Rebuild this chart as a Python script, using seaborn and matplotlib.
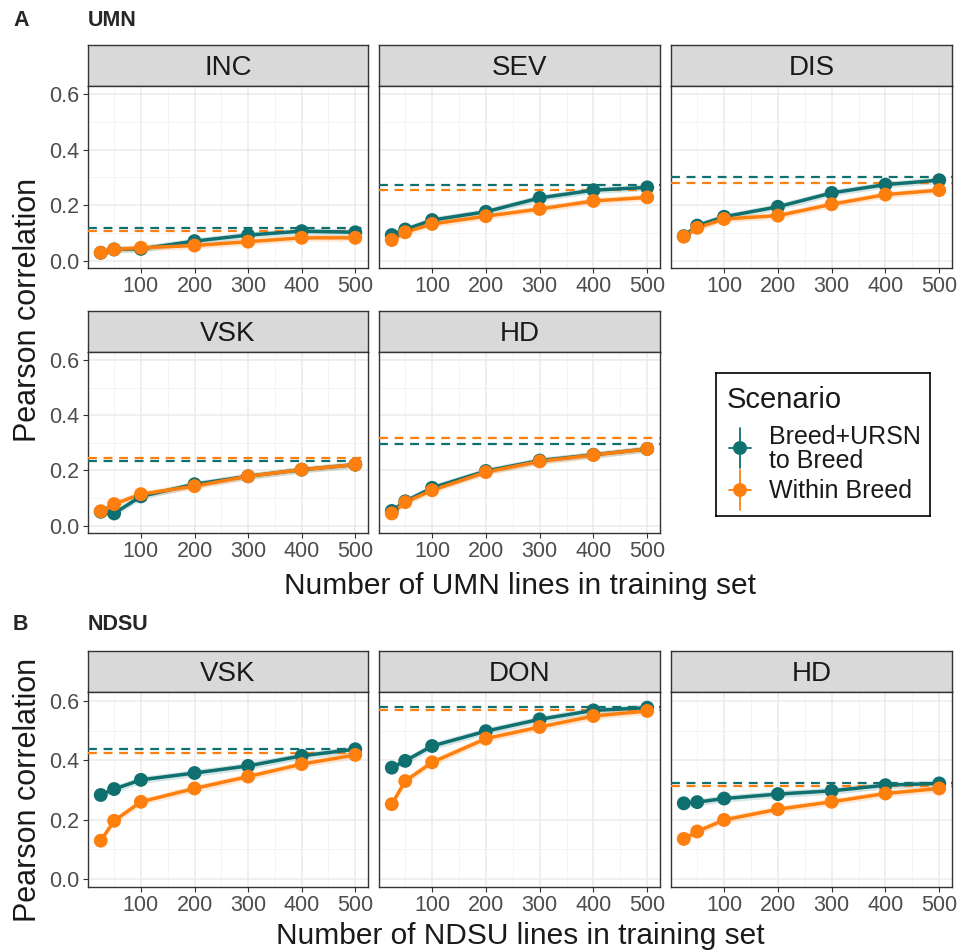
import numpy as np
import pandas as pd
import matplotlib
matplotlib.use("Agg")
import matplotlib.pyplot as plt
import seaborn as sns

sns.set_theme(style="white")
plt.rcParams['font.family'] = ['Liberation Sans', 'DejaVu Sans']

# ---------------- data ----------------
sizes = [25, 50, 100, 200, 300, 400, 500]
scenarios = ["Breed+URSN\nto Breed", "Within Breed"]

umn_traits = ["INC", "SEV", "DIS", "VSK", "HD"]
umn_cross = {
    "INC": [0.028, 0.040, 0.042, 0.070, 0.092, 0.106, 0.102],
    "SEV": [0.092, 0.112, 0.146, 0.176, 0.226, 0.254, 0.264],
    "DIS": [0.088, 0.126, 0.158, 0.194, 0.244, 0.274, 0.290],
    "VSK": [0.050, 0.044, 0.106, 0.150, 0.179, 0.203, 0.221],
    "HD":  [0.053, 0.088, 0.137, 0.198, 0.236, 0.257, 0.278],
}
umn_within = {
    "INC": [0.028, 0.040, 0.046, 0.054, 0.068, 0.082, 0.082],
    "SEV": [0.074, 0.102, 0.132, 0.160, 0.186, 0.215, 0.228],
    "DIS": [0.086, 0.118, 0.150, 0.162, 0.203, 0.238, 0.254],
    "VSK": [0.052, 0.078, 0.114, 0.143, 0.179, 0.203, 0.221],
    "HD":  [0.044, 0.085, 0.128, 0.194, 0.233, 0.256, 0.278],
}
umn_cross_ref = {"INC": 0.118, "SEV": 0.274, "DIS": 0.300, "VSK": 0.234, "HD": 0.295}
umn_within_ref = {"INC": 0.106, "SEV": 0.256, "DIS": 0.281, "VSK": 0.246, "HD": 0.319}

ndsu_traits = ["VSK", "DON", "HD"]
ndsu_cross = {
    "VSK": [0.283, 0.303, 0.334, 0.357, 0.381, 0.415, 0.437],
    "DON": [0.375, 0.398, 0.448, 0.498, 0.538, 0.568, 0.577],
    "HD":  [0.255, 0.259, 0.271, 0.286, 0.297, 0.316, 0.322],
}
ndsu_within = {
    "VSK": [0.129, 0.196, 0.260, 0.305, 0.345, 0.387, 0.418],
    "DON": [0.252, 0.330, 0.393, 0.473, 0.512, 0.549, 0.566],
    "HD":  [0.135, 0.160, 0.199, 0.235, 0.260, 0.288, 0.305],
}
ndsu_cross_ref = {"VSK": 0.437, "DON": 0.580, "HD": 0.325}
ndsu_within_ref = {"VSK": 0.426, "DON": 0.570, "HD": 0.314}

yticks = [0.0, 0.2, 0.4, 0.6]
xticks = [100, 200, 300, 400, 500]

# ---------------- style ----------------
TEAL = "#107070"
ORANGE = "#FF7F0E"
palette = {scenarios[0]: TEAL, scenarios[1]: ORANGE}
W, H = 960, 951
fig = plt.figure(figsize=(W / 100, H / 100), dpi=100)

def px_axes(l, t, r, b, **kw):
    return fig.add_axes([l / W, 1 - b / H, (r - l) / W, (b - t) / H], **kw)

cols_x = [(88, 368), (379, 660), (671, 952)]
BAND = 0.012

def draw_panel(l, r, st, pt, pb, trait, cross, within, cref, wref, show_y):
    # strip
    sax = px_axes(l, st, r, pt)
    sax.set_facecolor("#D9D9D9")
    sax.set_xticks([]); sax.set_yticks([])
    for s in sax.spines.values():
        s.set_color("#333333"); s.set_linewidth(1.0)
    sax.text(0.5, 0.45, trait, ha="center", va="center", fontsize=20, color="#1A1A1A",
             transform=sax.transAxes)
    ax = px_axes(l, pt, r, pb)
    df = pd.DataFrame({
        "size": sizes * 2,
        "r": list(cross) + list(within),
        "Scenario": [scenarios[0]] * len(sizes) + [scenarios[1]] * len(sizes),
    })
    for sc, col in palette.items():
        sub = df[df["Scenario"] == sc]
        ax.fill_between(sub["size"], sub["r"] - BAND, sub["r"] + BAND, color=col,
                        alpha=0.18, linewidth=0, zorder=2)
    ax.axhline(cref, color=TEAL, lw=1.6, ls=(0, (4, 3)), zorder=3)
    ax.axhline(wref, color=ORANGE, lw=1.6, ls=(0, (4, 3)), zorder=3)
    sns.lineplot(data=df, x="size", y="r", hue="Scenario", palette=palette, lw=2.5,
                 legend=False, ax=ax, zorder=4, errorbar=None)
    sns.scatterplot(data=df, x="size", y="r", hue="Scenario", palette=palette, s=100,
                    edgecolor="none", legend=False, ax=ax, zorder=5)
    ax.set_xlim(1.25, 523.75)
    ax.set_ylim(-0.027, 0.63)
    ax.set_xticks(xticks)
    ax.set_xticks([50, 150, 250, 350, 450], minor=True)
    ax.set_yticks(yticks)
    ax.set_yticks([0.1, 0.3, 0.5], minor=True)
    ax.grid(True, which="major", color="#EBEBEB", lw=1.1, zorder=0)
    ax.grid(True, which="minor", color="#F2F2F2", lw=0.6, zorder=0)
    ax.set_axisbelow(True)
    ax.set_facecolor("white")
    for s in ax.spines.values():
        s.set_color("#333333"); s.set_linewidth(1.0)
    ax.tick_params(axis="both", which="major", length=3.5, width=0.8, color="#333333",
                   labelsize=15.5, labelcolor="#4D4D4D", pad=2.5, bottom=True, left=True)
    ax.tick_params(which="minor", length=0)
    ax.set_xticklabels([str(v) for v in xticks])
    if show_y:
        ax.set_yticklabels([f"{v:.1f}" for v in yticks])
    else:
        ax.set_yticklabels([])
        ax.tick_params(axis="y", length=0)
    ax.set_xlabel(""); ax.set_ylabel("")
    return ax

# Row 1 and 2: UMN
rows_umn = [(45, 86, 268), (311, 352, 533)]
for i, trait in enumerate(umn_traits):
    row, col = divmod(i, 3)
    st, pt, pb = rows_umn[row]
    l, r = cols_x[col]
    draw_panel(l, r, st, pt, pb, trait, umn_cross[trait], umn_within[trait],
               umn_cross_ref[trait], umn_within_ref[trait], col == 0)

# Row 3: NDSU
for col, trait in enumerate(ndsu_traits):
    l, r = cols_x[col]
    draw_panel(l, r, 651, 692, 887, trait, ndsu_cross[trait], ndsu_within[trait],
               ndsu_cross_ref[trait], ndsu_within_ref[trait], col == 0)

# Titles / labels
def ftext(x, y, s, **kw):
    fig.text(x / W, 1 - y / H, s, **kw)

ftext(13, 21, "A", fontsize=15.5, fontweight="bold", va="center", ha="left")
ftext(88, 21, "UMN", fontsize=15.5, fontweight="bold", va="center", ha="left")
ftext(13, 625, "B", fontsize=15.5, fontweight="bold", va="center", ha="left")
ftext(88, 625, "NDSU", fontsize=15.5, fontweight="bold", va="center", ha="left")
ftext(520, 586, "Number of UMN lines in training set", fontsize=21.5, ha="center",
      va="center", color="#1A1A1A")
ftext(520, 936, "Number of NDSU lines in training set", fontsize=21.5, ha="center",
      va="center", color="#1A1A1A")
ftext(28, 310, "Pearson correlation", fontsize=22, rotation=90, ha="center",
      va="center", color="#1A1A1A")
ftext(28, 790, "Pearson correlation", fontsize=22, rotation=90, ha="center",
      va="center", color="#1A1A1A")

# Legend
lax = px_axes(716, 373, 930, 516)
lax.set_xlim(716, 930); lax.set_ylim(516, 373)
lax.set_xticks([]); lax.set_yticks([])
for s in lax.spines.values():
    s.set_color("black"); s.set_linewidth(1.2)
lax.text(727, 400, "Scenario", fontsize=21, va="center", ha="left", color="#1A1A1A")
for (cx, cy, col, lab, ty) in [(740, 448, TEAL, scenarios[0], 449),
                                (740, 490, ORANGE, scenarios[1], 491)]:
    lax.plot([cx, cx], [cy - 20, cy + 20], color=col, lw=1.3)
    lax.plot([cx - 11, cx + 11], [cy, cy], color=col, lw=1.3)
    lax.scatter([cx], [cy], s=100, color=col, edgecolor="none", zorder=3)
    lax.text(769, ty, lab, fontsize=18, va="center", ha="left", color="#1A1A1A",
             linespacing=1.0)

fig.savefig("out.png", dpi=100)
